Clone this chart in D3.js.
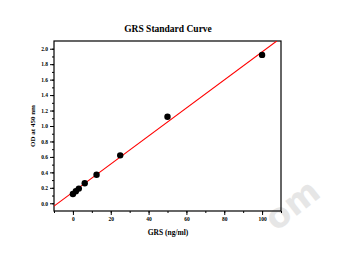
<!DOCTYPE html>
<html>
<head>
<meta charset="utf-8">
<script src="https://cdn.jsdelivr.net/npm/d3@7"></script>
<style>
  body { margin: 0; background: #fff; }
  text { font-family: "Liberation Serif", "DejaVu Serif", serif; font-weight: bold; }
</style>
</head>
<body>
<div id="chart"></div>
<script>
// GRS concentration (ng/ml) and measured OD
var conc = [0, 1.56, 3.125, 6.25, 12.5, 25, 50, 100];
var od   = [0.12, 0.155, 0.19, 0.26, 0.37, 0.62, 1.12, 1.92];
var xTicks = [0, 20, 40, 60, 80, 100];
var yTicks = [0.0, 0.2, 0.4, 0.6, 0.8, 1.0, 1.2, 1.4, 1.6, 1.8, 2.0];

function init(){
	var w = 350, h = 255;
	var left = 54, right = 281, top = 41, bottom = 211;

	var svg = d3.select("#chart").append("svg")
		.attr("width", w).attr("height", h);

	var x = d3.scaleLinear().domain([-10, 110]).range([left, right]);
	var y = d3.scaleLinear().domain([-0.1, 2.1]).range([bottom, top]);

	// watermark
	svg.append("text")
		.attr("transform", "translate(276,232) rotate(-38)")
		.style("font-family", "DejaVu Sans, sans-serif")
		.style("font-size", "34px")
		.attr("fill", "#e6e6e6")
		.text("om");

	// minor ticks
	var xMinor = d3.range(-10, 111, 10);
	var yMinor = d3.range(0, 21, 1).map(function(d){ return d / 10; });

	svg.append("g").attr("transform", "translate(0," + bottom + ")")
		.call(d3.axisBottom(x).tickValues(xMinor).tickSize(2).tickFormat(""))
		.call(function(g){ g.select(".domain").remove(); });
	svg.append("g").attr("transform", "translate(" + left + ",0)")
		.call(d3.axisLeft(y).tickValues(yMinor).tickSize(2).tickFormat(""))
		.call(function(g){ g.select(".domain").remove(); });

	// major ticks
	var gx = svg.append("g").attr("transform", "translate(0," + bottom + ")")
		.call(d3.axisBottom(x).tickValues(xTicks).tickSize(4).tickPadding(2).tickFormat(d3.format("d")));
	gx.select(".domain").remove();
	gx.selectAll("text").style("font-size", "5.5px").attr("fill", "#000");

	var gy = svg.append("g").attr("transform", "translate(" + left + ",0)")
		.call(d3.axisLeft(y).tickValues(yTicks).tickSize(4).tickPadding(2).tickFormat(d3.format(".1f")));
	gy.select(".domain").remove();
	gy.selectAll("text").style("font-size", "5.5px").attr("fill", "#000");

	// frame
	svg.append("rect")
		.attr("x", left).attr("y", top)
		.attr("width", right - left).attr("height", bottom - top)
		.attr("fill", "none").attr("stroke", "#000").attr("stroke-width", 1.2);

	// linear fit
	var mx = d3.mean(conc), my = d3.mean(od);
	var sxy = d3.sum(conc, function(d, i){ return (d - mx) * (od[i] - my); });
	var sxx = d3.sum(conc, function(d){ return (d - mx) * (d - mx); });
	var slope = sxy / sxx, icpt = my - slope * mx;
	var xEnd = Math.min(110, (2.1 - icpt) / slope);

	svg.append("clipPath").attr("id", "clip")
		.append("rect").attr("x", left).attr("y", top)
		.attr("width", right - left).attr("height", bottom - top);

	svg.append("line")
		.attr("clip-path", "url(#clip)")
		.attr("x1", x(-10)).attr("y1", y(icpt - 10 * slope))
		.attr("x2", x(xEnd)).attr("y2", y(icpt + xEnd * slope))
		.attr("stroke", "#ff0000").attr("stroke-width", 1.1);

	svg.selectAll("circle")
		.data(conc)
		.enter()
		.append("circle")
		.attr("cx", function(d){ return x(d); })
		.attr("cy", function(d, i){ return y(od[i]); })
		.attr("r", 3.2)
		.attr("fill", "#000");

	// titles
	svg.append("text")
		.attr("x", 168).attr("y", 32)
		.attr("text-anchor", "middle")
		.style("font-size", "9.5px")
		.text("GRS Standard Curve");

	svg.append("text")
		.attr("x", 168).attr("y", 235)
		.attr("text-anchor", "middle")
		.style("font-size", "7.5px")
		.text("GRS (ng/ml)");

	svg.append("text")
		.attr("transform", "translate(35,126) rotate(-90)")
		.attr("text-anchor", "middle")
		.style("font-size", "7px")
		.text("OD at 450 nm");
}

window.onload = init;
</script>
</body>
</html>
